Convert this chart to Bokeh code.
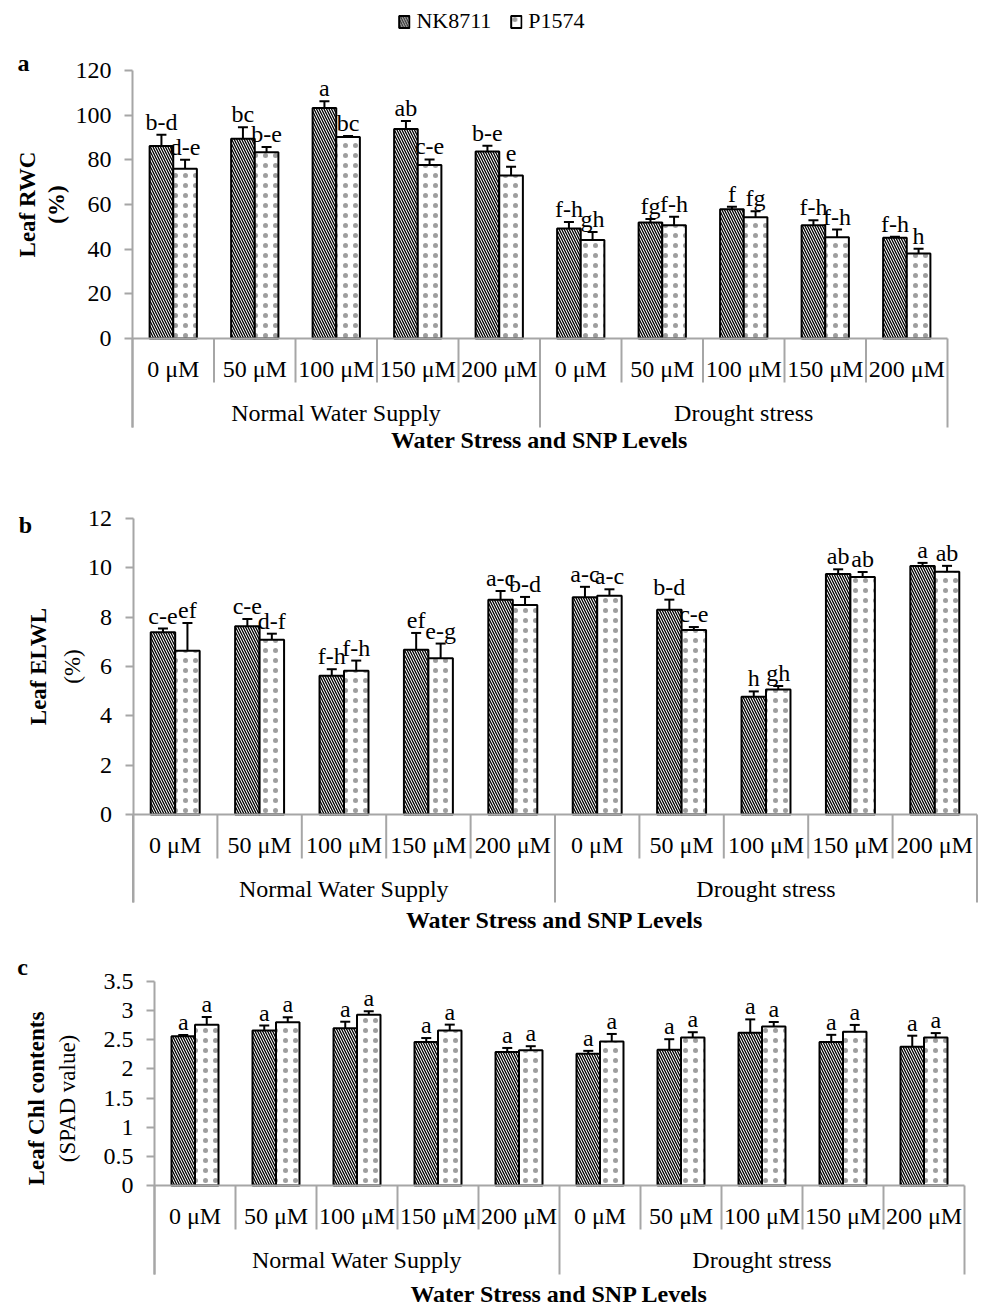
import math
from bokeh.plotting import figure
from bokeh.models import (Range1d, FixedTicker, NumeralTickFormatter, Whisker, TeeHead,
                          ColumnDataSource, Legend, LegendItem)
from bokeh.layouts import column
from bokeh.core.properties import value
from bokeh.embed import file_html
from bokeh.resources import INLINE

# ---------------- data ----------------
snp_levels = ["0 μM", "50 μM", "100 μM", "150 μM", "200 μM"]
water_levels = ["Normal Water Supply", "Drought stress"]
cultivars = ["NK8711", "P1574"]

rwc_nk = [86.2, 89.4, 103.2, 93.8, 83.7, 49.2, 51.9, 57.9, 50.7, 45.1]
rwc_nk_err = [5.0, 5.2, 3.0, 3.6, 2.6, 3.0, 1.6, 1.1, 2.3, 0.5]
rwc_p = [76.0, 83.4, 90.2, 77.7, 73.0, 44.1, 50.7, 54.3, 45.3, 38.1]
rwc_p_err = [4.0, 2.3, 0.5, 2.5, 3.9, 3.6, 3.8, 2.7, 3.5, 2.1]
rwc_nk_let = ["b-d", "bc", "a", "ab", "b-e", "f-h", "fg", "f", "f-h", "f-h"]
rwc_p_let = ["d-e", "b-e", "bc", "c-e", "e", "gh", "f-h", "fg", "f-h", "h"]
rwc_ticks = [0, 20, 40, 60, 80, 100, 120]

elwl_nk = [7.39, 7.63, 5.63, 6.68, 8.71, 8.81, 8.30, 4.77, 9.75, 10.07]
elwl_nk_err = [0.15, 0.30, 0.26, 0.68, 0.35, 0.42, 0.41, 0.22, 0.19, 0.13]
elwl_p = [6.64, 7.08, 5.83, 6.33, 8.49, 8.87, 7.48, 5.07, 9.63, 9.84]
elwl_p_err = [1.12, 0.25, 0.41, 0.60, 0.33, 0.26, 0.12, 0.14, 0.20, 0.24]
elwl_nk_let = ["c-e", "c-e", "f-h", "ef", "a-c", "a-c", "b-d", "h", "ab", "a"]
elwl_p_let = ["ef", "d-f", "f-h", "e-g", "b-d", "a-c", "c-e", "gh", "ab", "ab"]
elwl_ticks = [0, 2, 4, 6, 8, 10, 12]

chl_nk = [2.56, 2.66, 2.70, 2.46, 2.29, 2.26, 2.33, 2.62, 2.46, 2.38]
chl_nk_err = [0.02, 0.085, 0.11, 0.07, 0.07, 0.05, 0.18, 0.23, 0.125, 0.19]
chl_p = [2.76, 2.80, 2.93, 2.66, 2.32, 2.47, 2.54, 2.73, 2.64, 2.54]
chl_p_err = [0.13, 0.085, 0.06, 0.10, 0.07, 0.13, 0.09, 0.075, 0.115, 0.075]
chl_nk_let = ["a"] * 10
chl_p_let = ["a"] * 10
chl_ticks = [0, 0.5, 1, 1.5, 2, 2.5, 3, 3.5]

x_title = "Water Stress and SNP Levels"

# ---------------- style ----------------
FONT = "Liberation Serif"
FS = "24px"
GRAY = "#a6a6a6"
W = 982
BAR_W = 0.29
LETTER_GAP_PX = 13
NK_HATCH = dict(hatch_pattern="\\", hatch_scale=5, hatch_weight=1.3, hatch_color="black")
P_HATCH = dict(hatch_pattern=".", hatch_scale=10, hatch_weight=0.3, hatch_color="black",
               hatch_alpha=0.38)


def txt(p, **kw):
    base = dict(text_font=value(FONT), text_font_size=FS, text_color="black",
                text_align="center", text_baseline="middle")
    base.update(kw)
    return p.text(**base)


def make_panel(letter, ylab_bold, ylab_second, second_bold, nk, nk_err, pv, pv_err,
               nk_let, p_let, ticks, lay, legend=False):
    fig_top, fig_h = lay["fig_top"], lay["fig_h"]
    zero, val_px, lab_px = lay["zero"], lay["val_px"], lay["lab_px"]
    left, cat_px = lay["left"], lay["cat_px"]
    ymax = ticks[-1]
    s = val_px / ymax                      # pixels per data unit
    up_px = zero - fig_top                 # pixels above the zero line
    dn_px = fig_top + fig_h - zero         # pixels below the zero line
    n_cat = len(snp_levels) * len(water_levels)

    p = figure(width=W, height=fig_h, output_backend="svg", toolbar_location=None,
               x_range=Range1d(-left / cat_px, (W - left) / cat_px),
               y_range=Range1d(-dn_px / s, up_px / s),
               min_border_left=0, min_border_right=0, min_border_top=0, min_border_bottom=0)
    p.extra_y_ranges = {"px": Range1d(-dn_px, up_px)}
    p.extra_x_ranges = {"px": Range1d(-left, W - left)}
    p.xgrid.visible = False
    p.ygrid.visible = False
    p.xaxis.visible = False
    p.outline_line_color = None
    p.background_fill_color = "white"
    p.border_fill_color = "white"

    centers = [i + 0.5 for i in range(n_cat)]
    x_nk = [c - BAR_W / 2 for c in centers]
    x_p = [c + BAR_W / 2 for c in centers]
    gap = LETTER_GAP_PX / s

    def src_for(xs, vals, errs, lets):
        ups = [v + e for v, e in zip(vals, errs)]
        return ColumnDataSource(dict(x=xs, top=vals, up=ups,
                                     lo=[v - e for v, e in zip(vals, errs)],
                                     ty=[u + gap for u in ups], let=lets))

    src_nk = src_for(x_nk, nk, nk_err, nk_let)
    src_p = src_for(x_p, pv, pv_err, p_let)

    r_nk = p.vbar(x="x", top="top", bottom=0, width=BAR_W, source=src_nk, fill_color="white",
                  line_color="black", line_width=2, **NK_HATCH)
    r_p = p.vbar(x="x", top="top", bottom=0, width=BAR_W, source=src_p, fill_color="white",
                 line_color="black", line_width=2, **P_HATCH)

    for src in (src_nk, src_p):
        p.add_layout(Whisker(source=src, base="x", upper="up", lower="lo", dimension="height",
                             line_color="black", line_width=2,
                             upper_head=TeeHead(size=10, line_width=2, line_color="black"),
                             lower_head=TeeHead(size=10, line_width=2, line_color="black")))
        txt(p, x="x", y="ty", text="let", source=src, text_baseline="alphabetic")

    # category axis box (zero line + separators), y in pixels from the zero line
    sep_in = [i for i in range(1, n_cat) if i % len(snp_levels) != 0]
    sep_grp = [i for i in range(0, n_cat + 1) if i % len(snp_levels) == 0]
    p.segment(x0=sep_in, x1=sep_in, y0=[0] * len(sep_in), y1=[-44] * len(sep_in),
              y_range_name="px", line_color=GRAY, line_width=2)
    p.segment(x0=sep_grp, x1=sep_grp, y0=[0] * len(sep_grp), y1=[-lab_px] * len(sep_grp),
              y_range_name="px", line_color=GRAY, line_width=2)
    p.segment(x0=[0], x1=[n_cat], y0=[0], y1=[0], y_range_name="px",
              line_color=GRAY, line_width=2)

    txt(p, x=centers, y=[-30] * n_cat, text=snp_levels * len(water_levels), y_range_name="px")
    gx = [len(snp_levels) * (g + 0.5) for g in range(len(water_levels))]
    txt(p, x=gx, y=[-74] * len(gx), text=water_levels, y_range_name="px")
    txt(p, x=[n_cat / 2], y=[zero - lay["xtitle_y"]], text=[x_title], y_range_name="px",
        text_font_style="bold")

    # y axis at the left edge of the categories
    yax = p.yaxis[0]
    yax.fixed_location = 0
    yax.bounds = (-lab_px / s, ymax)
    yax.ticker = FixedTicker(ticks=ticks)
    yax.formatter = NumeralTickFormatter(format="0.[0]")
    yax.axis_line_color = GRAY
    yax.axis_line_width = 2
    yax.major_tick_line_color = GRAY
    yax.major_tick_line_width = 2
    yax.major_tick_out = 8
    yax.major_tick_in = 0
    yax.minor_tick_line_color = None
    yax.major_label_text_font = FONT
    yax.major_label_text_font_size = FS
    yax.major_label_text_color = "black"
    yax.major_label_standoff = 13

    # panel letter and y titles (page positions converted to pixel offsets)
    lx, ly = lay["letter_xy"]
    txt(p, x=[lx - left], y=[zero - ly], text=[letter], x_range_name="px", y_range_name="px",
        text_font_style="bold")
    ax1, ay1 = lay["ylab1_xy"]
    txt(p, x=[ax1 - left], y=[zero - ay1], text=[ylab_bold], x_range_name="px",
        y_range_name="px", angle=math.pi / 2, text_font_style="bold", text_font_size="23px")
    ax2, ay2 = lay["ylab2_xy"]
    txt(p, x=[ax2 - left], y=[zero - ay2], text=[ylab_second], x_range_name="px",
        y_range_name="px", angle=math.pi / 2,
        text_font_style="bold" if second_bold else "normal", text_font_size="23px")

    if legend:
        leg = Legend(items=[LegendItem(label=cultivars[0], renderers=[r_nk]),
                            LegendItem(label=cultivars[1], renderers=[r_p])],
                     orientation="horizontal", location="top_center", border_line_color=None,
                     background_fill_alpha=0, label_text_font=FONT, label_text_font_size="22px",
                     label_text_color="black",
                     glyph_width=13, glyph_height=15, spacing=18, label_standoff=6,
                     padding=0, margin=8)
        p.add_layout(leg)
    return p


lay_a = dict(fig_top=0, fig_h=475, zero=338, val_px=268, lab_px=89, left=132, cat_px=81.5,
             xtitle_y=439, letter_xy=(23, 62), ylab1_xy=(27, 204), ylab2_xy=(56, 204))
lay_b = dict(fig_top=475, fig_h=470, zero=814, val_px=296, lab_px=88, left=132.5, cat_px=84.4,
             xtitle_y=919, letter_xy=(25, 524), ylab1_xy=(38, 666), ylab2_xy=(72, 666))
lay_c = dict(fig_top=945, fig_h=362, zero=1185, val_px=204, lab_px=89, left=154, cat_px=81.0,
             xtitle_y=1293, letter_xy=(22, 966), ylab1_xy=(36, 1098), ylab2_xy=(67, 1098))

pa = make_panel("a", "Leaf RWC", "(%)", True, rwc_nk, rwc_nk_err, rwc_p, rwc_p_err,
                rwc_nk_let, rwc_p_let, rwc_ticks, lay_a, legend=True)
pb = make_panel("b", "Leaf ELWL", "(%)", False, elwl_nk, elwl_nk_err, elwl_p, elwl_p_err,
                elwl_nk_let, elwl_p_let, elwl_ticks, lay_b)
pc = make_panel("c", "Leaf Chl contents", "(SPAD value)", False, chl_nk, chl_nk_err, chl_p,
                chl_p_err, chl_nk_let, chl_p_let, chl_ticks, lay_c)

layout = column(pa, pb, pc, spacing=0)
open("out.html", "w").write(file_html(layout, INLINE))
